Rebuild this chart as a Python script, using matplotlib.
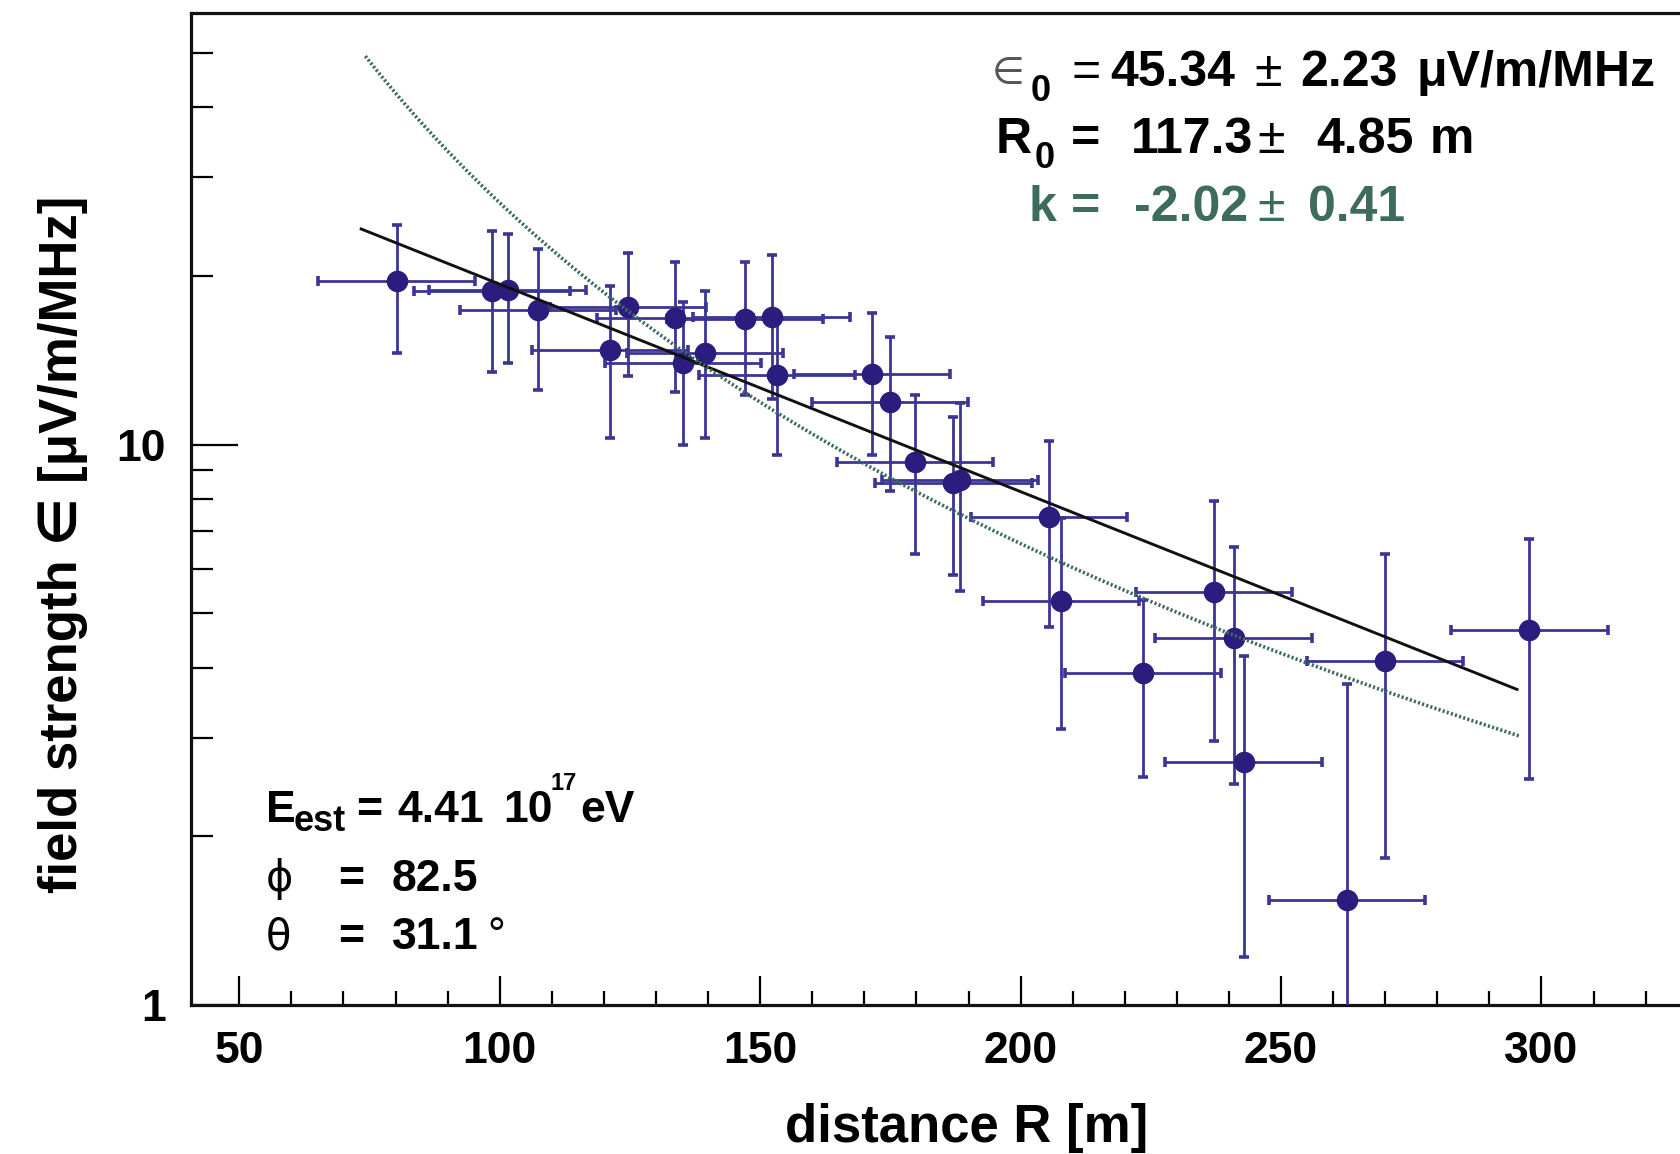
import numpy as np
import matplotlib
matplotlib.use("Agg")
import matplotlib.pyplot as plt
from matplotlib.ticker import FixedLocator, FixedFormatter, NullFormatter

# ---------------- data ----------------
R_m = [80.2, 98.5, 101.5, 107.4, 121.2, 124.6, 133.7, 135.2, 139.4, 147.1,
       152.2, 153.2, 171.5, 174.9, 179.7, 187.1, 188.3, 205.4, 207.8, 223.5,
       237.2, 240.9, 242.8, 262.6, 270.0, 297.7]
eps = [19.6, 18.78, 18.88, 17.39, 14.75, 17.63, 16.8, 13.97, 14.55, 16.73,
       16.92, 13.31, 13.37, 11.93, 9.32, 8.53, 8.66, 7.44, 5.25, 3.91,
       5.45, 4.52, 2.71, 1.54, 4.11, 4.66]
eps_err = [5.05, 5.28, 4.87, 4.9, 4.47, 4.37, 4.39, 3.97, 4.27, 4.45,
           4.87, 3.73, 3.79, 3.66, 2.94, 2.68, 3.19, 2.72, 2.14, 1.36,
           2.49, 2.04, 1.49, 2.2, 2.28, 2.13]
R_err = [15.0] * len(R_m)

# exponential fit  eps0 * exp(-R/R0)
eps0_fit = 45.34
R0_fit = 117.3
exp_range = (73.4, 295.3)
# power-law fit  A * (R/100)^k
k_fit = -2.02
pow_amp_at_100 = 27.0
pow_range = (74.2, 295.8)

x_ticks = [50, 100, 150, 200, 250, 300]
y_major = [1, 10]
y_major_labels = ["1", "10"]
y_minor = [2, 3, 4, 5, 6, 7, 8, 9, 20, 30, 40, 50]

# ---------------- figure ----------------
W, H = 1680, 1154
FAM = ["Liberation Sans", "DejaVu Sans"]
plt.rcParams["font.family"] = FAM

fig = plt.figure(figsize=(W / 100, H / 100), dpi=100)
ax_left, ax_top, ax_bottom = 190.7, 13.0, 1005.0
ax = fig.add_axes([ax_left / W, 1 - ax_bottom / H, 1 - ax_left / W, (ax_bottom - ax_top) / H])

ax.set_yscale("log")
ax.set_xlim(40.67, 326.6)
ax.set_ylim(1, 58.9)

pt_col = "#2a1d7e"
bar_col = "#3b3596"
green = "#3d6b5c"

ax.errorbar(R_m, eps, yerr=eps_err, xerr=R_err, fmt="o", color=pt_col,
            ecolor=bar_col, markersize=14.5, elinewidth=2.0, capsize=3.6,
            capthick=2.6, zorder=3)

rr = np.linspace(exp_range[0], exp_range[1], 300)
ax.plot(rr, eps0_fit * np.exp(-rr / R0_fit), color="#111111", lw=2.1, zorder=4)
rp = np.linspace(pow_range[0], pow_range[1], 300)
ax.plot(rp, pow_amp_at_100 * (rp / 100.0) ** k_fit, color=green, lw=2.6,
        ls=(0, (0.6, 0.6)), zorder=4)

# axes styling (ROOT-like)
for s in ["left", "bottom", "top"]:
    ax.spines[s].set_linewidth(2.3)
    ax.spines[s].set_color("#111111")
ax.spines["right"].set_visible(False)

ax.xaxis.set_major_locator(FixedLocator(x_ticks))
ax.xaxis.set_minor_locator(FixedLocator([v for v in range(60, 330, 10) if v % 50]))
ax.yaxis.set_major_locator(FixedLocator(y_major))
ax.yaxis.set_major_formatter(FixedFormatter(y_major_labels))
ax.yaxis.set_minor_locator(FixedLocator(y_minor))
ax.yaxis.set_minor_formatter(NullFormatter())

ax.tick_params(axis="x", which="major", direction="in", length=21, width=1.6,
               pad=19, labelsize=32, top=False)
ax.tick_params(axis="x", which="minor", direction="in", length=10, width=1.6, top=False)
ax.tick_params(axis="y", which="major", direction="in", length=34, width=1.6,
               pad=18, labelsize=32, right=False)
ax.tick_params(axis="y", which="minor", direction="in", length=16, width=1.6, right=False)
for lab in ax.get_xticklabels() + ax.get_yticklabels():
    lab.set_fontweight("bold")

# axis titles
fig.text(967 / W, 1 - 1142 / H, "distance R [m]", ha="center", va="baseline",
         fontsize=38, fontweight="bold")
fig.text(77 / W, 0.528, "field strength \u2208 [\u03bcV/m/MHz]", rotation=90,
         rotation_mode="anchor", ha="center", va="baseline", fontsize=38,
         fontweight="bold")


def put(s, x, y, size, weight="bold", color="black", family=None):
    fig.text(x / W, 1 - y / H, s, fontsize=size, fontweight=weight, color=color,
             ha="left", va="baseline", family=family or FAM)


# fit results, top right
b1, b2, b3 = 86, 153, 221
put("\u2208", 992, b1 - 2, 27, weight="normal", color="#555555", family=["DejaVu Sans"])
put("0", 1031, b1 + 15, 26)
put("=", 1071, b1, 36, weight="normal")
put("45.34", 1110, b1, 36)
put("\u00b1", 1254, b1, 36, weight="normal")
put("2.23", 1300, b1, 36)
put("\u03bcV/m/MHz", 1416, b1, 36)

put("R", 996, b2, 36)
put("0", 1035, b2 + 15, 26)
put("=", 1071, b2, 36)
put("117.3", 1131, b2, 36)
put("\u00b1", 1257, b2, 36, weight="normal")
put("4.85", 1316, b2, 36)
put("m", 1430, b2, 36)

put("k", 1029, b3, 36, color=green)
put("=", 1071, b3, 36, color=green)
put("-2.02", 1134, b3, 36, color=green)
put("\u00b1", 1257, b3, 36, weight="normal", color=green)
put("0.41", 1308, b3, 36, color=green)

# shower info, bottom left
c1, c2, c3 = 822, 891, 949
put("E", 266, c1, 32)
put("est", 294, c1 + 9, 26)
put("=", 356, c1, 32)
put("4.41", 397, c1, 32)
put("10", 503, c1, 32)
put("17", 551, c1 - 32, 17)
put("eV", 580, c1, 32)

put("\u03d5", 266, c2, 30, weight="normal", family=["DejaVu Sans"])
put("=", 338, c2, 32)
put("82.5", 392, c2, 32)

put("\u03b8", 266, c3, 30, weight="normal", family=["DejaVu Sans"])
put("=", 338, c3, 32)
put("31.1", 392, c3, 32)
put("\u00b0", 487, c3, 32, weight="normal")

fig.savefig("out.png", dpi=100)
